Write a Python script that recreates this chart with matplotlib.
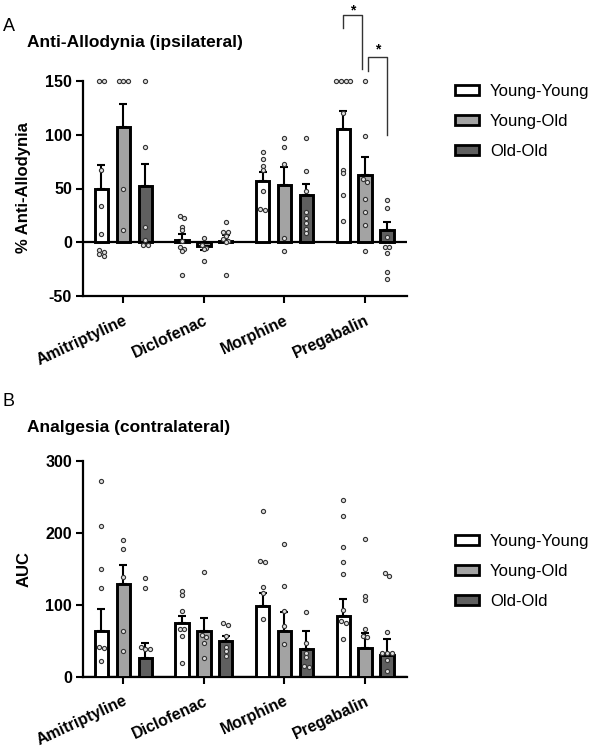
import numpy as np
import matplotlib
matplotlib.use('Agg')
import matplotlib.pyplot as plt
from matplotlib.patches import Patch

plt.rcParams['font.family'] = ['Liberation Sans', 'DejaVu Sans']
plt.rcParams['axes.unicode_minus'] = False

drugs = ['Amitriptyline', 'Diclofenac', 'Morphine', 'Pregabalin']
groups = ['Young-Young', 'Young-Old', 'Old-Old']
colours = ['#ffffff', '#a3a3a3', '#5f5f5f']

# panel A : % anti-allodynia (ipsilateral)
a_mean_yy = [50, 2, 57, 105]
a_sem_yy = [21.5, 6, 8, 17]
a_mean_yo = [107, -3.5, 53, 62.5]
a_sem_yo = [22, 4, 17, 16.5]
a_mean_oo = [52, 1.5, 44, 11]
a_sem_oo = [20.5, 5, 10.5, 8]

a_pts_yy = [[150, 150, 67, 34, 7.5, -7.5, -9, -11, -13],
            [24.5, 23, 14, 11, 1, -4, -6, -8.5, -30],
            [84, 77, 71, 67, 48, 31, 30],
            [150, 150, 150, 150, 120, 67.5, 64, 44, 19.5]]
a_pts_yo = [[150, 150, 150, 50, 11],
            [4, -3, -5, -6, -17.5],
            [97, 89, 73, 4, -8],
            [150, 99, 58.5, 56, 40, 28, 16, -8]]
a_pts_oo = [[150, 89, 14, 2.5, -3, -3],
            [19, 10, 10, 6, 3, 1, 0, -30],
            [97, 66, 48, 28, 23, 18, 12, 9],
            [39, 32, 5, -4, -4, -10, -27.5, -34.5]]

# panel B : AUC analgesia (contralateral)
b_mean_yy = [64, 74, 99, 84.5]
b_sem_yy = [30, 11, 17, 23]
b_mean_yo = [129, 63.5, 63.5, 39.5]
b_sem_yo = [26.5, 17.5, 26, 21]
b_mean_oo = [25.5, 49, 38, 30]
b_sem_oo = [21, 7, 25.5, 22]

b_pts_yy = [[272, 210, 150, 124, 41, 40, 22],
            [119, 113, 92, 67, 67, 57, 19.5],
            [230, 161, 159, 125, 116, 80],
            [246, 224, 181, 159, 143, 93, 77, 74, 52.5]]
b_pts_yo = [[190, 177, 138, 64, 36],
            [146, 58, 55, 46.5, 25.5],
            [185, 126, 92, 70, 45.5],
            [192, 112, 107, 67, 56, 55]]
b_pts_oo = [[137, 123, 41, 38, 38],
            [75, 72, 57, 42, 36, 29],
            [90.5, 46.5, 33, 28, 15, 13],
            [144, 140, 62, 33, 33, 33, 23, 8]]

W, H = 595, 748
fig = plt.figure(figsize=(W / 100, H / 100), dpi=100)

offs = [-0.272, 0.0, 0.272]
bw = 0.165


def swarm(vals, tol, dx=0.058):
    # spread points that sit at about the same height
    vals = np.sort(np.asarray(vals, float))[::-1]
    xs = np.zeros(len(vals))
    i = 0
    while i < len(vals):
        j = i
        while j + 1 < len(vals) and vals[i] - vals[j + 1] < tol:
            j += 1
        n = j - i + 1
        xs[i:j + 1] = (np.arange(n) - (n - 1) / 2) * dx
        i = j + 1
    return xs, vals


def panel(ax, means, sems, pts, ylo, yhi, step, tol):
    x = np.arange(len(drugs))
    ax.axhline(0, color='black', lw=1.6, zorder=2)
    for k in range(3):
        m = np.array(means[k])
        s = np.array(sems[k])
        ax.bar(x + offs[k], m, bw, color=colours[k], edgecolor='black',
               linewidth=2.1, zorder=3)
        up = np.where(m >= 0, s, 0)
        dn = np.where(m < 0, s, 0)
        ax.errorbar(x + offs[k], m, yerr=[dn, up], fmt='none', ecolor='black',
                    elinewidth=1.5, capsize=3, capthick=1.5, zorder=4)
        for g in range(len(drugs)):
            dxs, v = swarm(pts[k][g], tol)
            ax.plot(x[g] + offs[k] + dxs, v, 'o', ms=3, mfc='#dcdcdc',
                    mec='#333333', mew=0.8, zorder=5, clip_on=False)
    ax.set_xlim(-0.5, 3.52)
    ax.set_ylim(ylo, yhi)
    ax.set_yticks(np.arange(ylo, yhi + 1, step))
    ax.set_xticks(x)
    ax.set_xticklabels(drugs, rotation=25, ha='right', va='top',
                       rotation_mode='anchor', fontweight='bold', fontsize=11.5)
    for t in ax.get_yticklabels():
        t.set_fontweight('bold')
        t.set_fontsize(11.5)
    ax.tick_params(axis='both', length=5, width=1.5, color='black', pad=3)
    ax.tick_params(axis='x', pad=7)
    for sp in ['top', 'right']:
        ax.spines[sp].set_visible(False)
    for sp in ['left', 'bottom']:
        ax.spines[sp].set_linewidth(1.6)
    ax.spines['left'].set_bounds(ylo, yhi)
    ax.patch.set_alpha(0)


axA = fig.add_axes([83 / W, 1 - 296 / H, 324 / W, 215 / H])
panel(axA, [a_mean_yy, a_mean_yo, a_mean_oo], [a_sem_yy, a_sem_yo, a_sem_oo],
      [a_pts_yy, a_pts_yo, a_pts_oo], -50, 150, 50, 3)

axB = fig.add_axes([83 / W, 1 - 676.7 / H, 324 / W, 215.7 / H])
panel(axB, [b_mean_yy, b_mean_yo, b_mean_oo], [b_sem_yy, b_sem_yo, b_sem_oo],
      [b_pts_yy, b_pts_yo, b_pts_oo], 0, 300, 100, 4.5)

# significance brackets on pregabalin
p = 3
brk = dict(color='#333333', lw=1.0, clip_on=False)
axA.plot([p + offs[0], p + offs[0], p - 0.035, p - 0.035], [199, 211, 211, 161], **brk)
axA.text((p + offs[0] + p - 0.035) / 2, 216, '*', ha='center', va='center',
         fontsize=10, fontweight='bold')
axA.plot([p + 0.04, p + 0.04, p + offs[2] + 0.005, p + offs[2] + 0.005],
         [159, 172, 172, 99.5], **brk)
axA.text((p + 0.04 + p + offs[2]) / 2, 179, '*', ha='center', va='center',
         fontsize=10, fontweight='bold')

# labels
fig.text(3 / W, 1 - 18 / H, 'A', fontsize=13, va='top', ha='left')
fig.text(27 / W, 1 - 47 / H, 'Anti-Allodynia (ipsilateral)', fontsize=12.5,
         fontweight='bold', va='baseline')
fig.text(24 / W, 1 - 188 / H, '% Anti-Allodynia', rotation=90, ha='center',
         va='center', fontsize=12, fontweight='bold')

fig.text(3 / W, 1 - 393 / H, 'B', fontsize=13, va='top', ha='left')
fig.text(27 / W, 1 - 432 / H, 'Analgesia (contralateral)', fontsize=12.5,
         fontweight='bold', va='baseline')
fig.text(24 / W, 1 - 569 / H, 'AUC', rotation=90, ha='center',
         va='center', fontsize=12, fontweight='bold')

handles = [Patch(facecolor=c, edgecolor='black', linewidth=2) for c in colours]
for top in [84, 534]:
    fig.legend(handles, groups, loc='upper left',
               bbox_to_anchor=(455 / W, 1 - top / H), frameon=False,
               fontsize=12, handlelength=1.45, handleheight=0.6,
               handletextpad=0.65, labelspacing=0.9, borderpad=0,
               borderaxespad=0)

fig.savefig('out.png', dpi=100, facecolor='white')
